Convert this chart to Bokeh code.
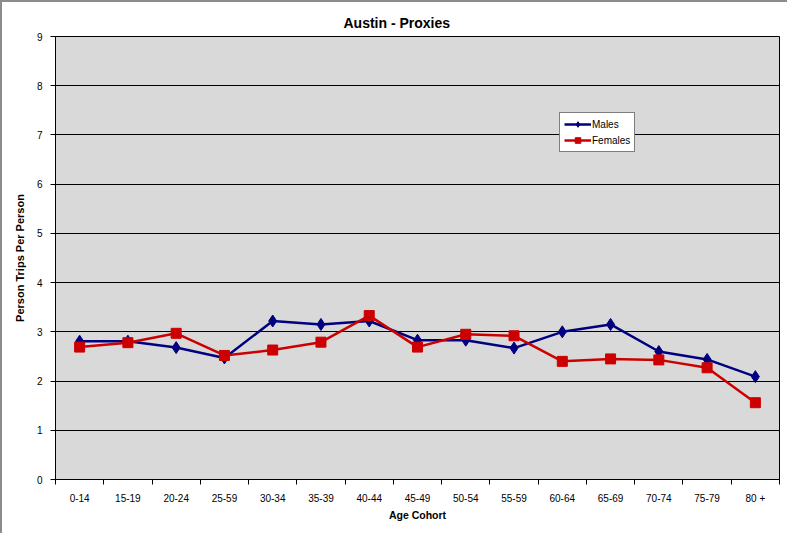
from bokeh.plotting import figure
from bokeh.models import Range1d, FixedTicker, Legend, LegendItem
from bokeh.embed import file_html
from bokeh.resources import INLINE

# Average person trips per person by age cohort, Austin proxy survey
cohorts = ["0-14", "15-19", "20-24", "25-59", "30-34", "35-39", "40-44", "45-49",
           "50-54", "55-59", "60-64", "65-69", "70-74", "75-79", "80 +"]
males = [2.81, 2.81, 2.68, 2.47, 3.22, 3.15, 3.22, 2.83, 2.83, 2.67, 3.00, 3.15, 2.60, 2.44, 2.09]
females = [2.69, 2.78, 2.97, 2.52, 2.63, 2.79, 3.33, 2.69, 2.95, 2.92, 2.40, 2.45, 2.43, 2.27, 1.56]
y_ticks = [0, 1, 2, 3, 4, 5, 6, 7, 8, 9]

FONT = "Liberation Sans"
n = len(cohorts)
centers = [i + 0.5 for i in range(n)]
bounds = list(range(n + 1))

p = figure(width=787, height=533, output_backend="svg", toolbar_location=None,
           x_range=Range1d(0, n), y_range=Range1d(0, 9),
           min_border_left=53, min_border_right=10, min_border_top=34, min_border_bottom=56)
p.styles = {"border-left": "2px solid #8c8c8c", "border-top": "2px solid #8c8c8c"}

p.background_fill_color = "#d9d9d9"
p.border_fill_color = "white"
p.outline_line_color = "black"
p.outline_line_width = 1

# Title, shifted so it sits over the middle of the whole chart
p.title.text = "Austin - Proxies"
p.title.align = "left"
p.title.vertical_align = "middle"
p.title.offset = 288
p.title.text_font = FONT
p.title.text_font_size = "14px"
p.title.text_font_style = "bold"
p.title.text_color = "black"
p.title.standoff = 10

# x axis: labels centred on categories, ticks between them
p.xaxis.ticker = FixedTicker(ticks=centers, minor_ticks=bounds)
p.xaxis.major_label_overrides = {c: lab for c, lab in zip(centers, cohorts)}
p.xaxis.major_tick_out = 0
p.xaxis.major_tick_in = 0
p.xaxis.minor_tick_out = 5
p.xaxis.minor_tick_in = 0
p.xaxis.minor_tick_line_color = "black"
p.xaxis.axis_line_color = "black"
p.xaxis.major_label_text_font = FONT
p.xaxis.major_label_text_font_size = "10px"
p.xaxis.major_label_text_color = "black"
p.xaxis.major_label_standoff = 8
p.xaxis.axis_label = "Age Cohort"
p.xaxis.axis_label_text_font = FONT
p.xaxis.axis_label_text_font_size = "10.5px"
p.xaxis.axis_label_text_font_style = "bold"
p.xaxis.axis_label_text_color = "black"
p.xaxis.axis_label_standoff = 2

# y axis
p.yaxis.ticker = FixedTicker(ticks=y_ticks)
p.yaxis.minor_tick_line_color = None
p.yaxis.major_tick_out = 5
p.yaxis.major_tick_in = 0
p.yaxis.major_tick_line_color = "black"
p.yaxis.axis_line_color = "black"
p.yaxis.major_label_text_font = FONT
p.yaxis.major_label_text_font_size = "10px"
p.yaxis.major_label_text_color = "black"
p.yaxis.major_label_standoff = 8
p.yaxis.axis_label = "Person Trips Per Person"
p.yaxis.axis_label_text_font = FONT
p.yaxis.axis_label_text_font_size = "11px"
p.yaxis.axis_label_text_font_style = "bold"
p.yaxis.axis_label_text_color = "black"
p.yaxis.axis_label_standoff = 8

p.xgrid.grid_line_color = None
p.ygrid.ticker = FixedTicker(ticks=y_ticks)
p.ygrid.grid_line_color = "black"
p.ygrid.grid_line_width = 1

# Series
m_line = p.line(centers, males, line_color="#000080", line_width=2.5)
m_mark = p.scatter(centers, males, marker="diamond", size=12, fill_color="#000080",
                   line_color="#000080")
f_line = p.line(centers, females, line_color="#cc0000", line_width=2.5)
f_mark = p.scatter(centers, females, marker="square", size=10, fill_color="#cc0000",
                   line_color="#cc0000")

legend = Legend(items=[LegendItem(label="Males", renderers=[m_line, m_mark]),
                       LegendItem(label="Females", renderers=[f_line, f_mark])],
                location=(504, 327), orientation="vertical",
                border_line_color="black", border_line_width=1,
                background_fill_color="white", background_fill_alpha=1,
                label_text_font=FONT, label_text_font_size="10px",
                label_text_color="black",
                glyph_width=27, glyph_height=14, label_standoff=1,
                spacing=2, padding=4, margin=0, label_height=14)
p.add_layout(legend)

open("out.html", "w").write(file_html(p, INLINE))
